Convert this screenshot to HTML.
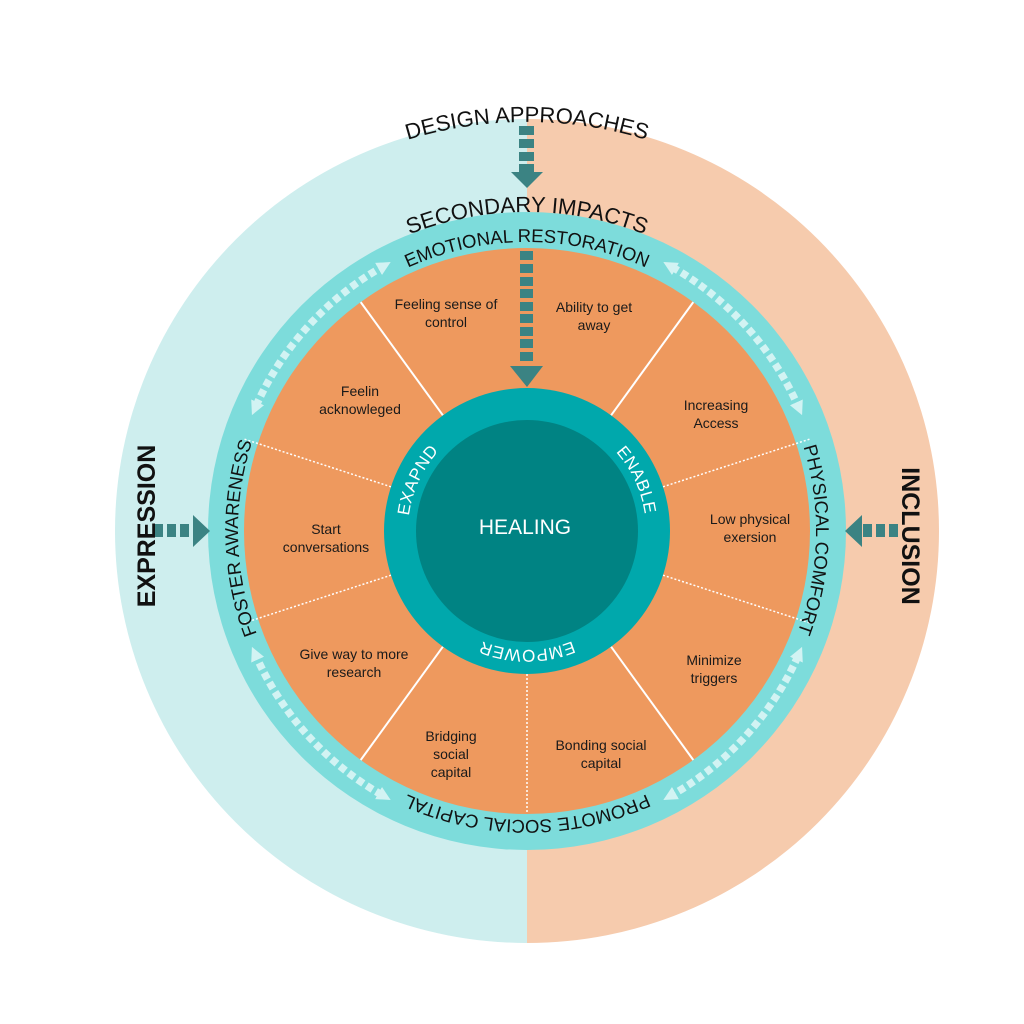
<!DOCTYPE html>
<html><head><meta charset="utf-8"><style>
html,body{margin:0;padding:0;background:#fff;}
svg{display:block;font-family:"Liberation Sans",sans-serif;}
</style></head><body>
<svg width="1024" height="1024" viewBox="0 0 1024 1024" xmlns="http://www.w3.org/2000/svg">
<defs>
<path id="b409" d="M527,940 A409,409 0 1 1 527,122 A409,409 0 1 1 527,940"/>
<path id="b319" d="M527,850 A319,319 0 1 1 527,212 A319,319 0 1 1 527,850"/>
<path id="b289" d="M527,820 A289,289 0 1 1 527,242 A289,289 0 1 1 527,820"/>
<path id="t289" d="M527,242 A289,289 0 1 1 527,820 A289,289 0 1 1 527,242"/>
<path id="b119" d="M527,650 A119,119 0 1 1 527,412 A119,119 0 1 1 527,650"/>
<path id="t119" d="M527,412 A119,119 0 1 1 527,650 A119,119 0 1 1 527,412"/>
<marker id="ah" markerUnits="userSpaceOnUse" markerWidth="16" markerHeight="16" refX="4" refY="8" orient="auto-start-reverse">
<polygon points="0,1 14,8 0,15" fill="#d2f3f3"/>
</marker>
</defs>
<path d="M527,119 A412,412 0 0 0 527,943 Z" fill="#ceeeee"/>
<path d="M527,119 A412,412 0 0 1 527,943 Z" fill="#f6cbad"/>
<circle cx="527" cy="531" r="319" fill="#7ddcdb"/>
<circle cx="527" cy="531" r="283" fill="#ee995e"/>
<g stroke="#fff" stroke-width="2">
<line x1="611.1" y1="415.3" x2="693.3" y2="302.1"/>
<line x1="611.1" y1="646.7" x2="693.3" y2="760"/>
<line x1="442.9" y1="646.7" x2="360.7" y2="760"/>
<line x1="442.9" y1="415.3" x2="360.7" y2="302.1"/>
</g>
<g stroke="#fff" stroke-width="1.5" stroke-dasharray="2 2">
<line x1="663" y1="486.8" x2="810" y2="439"/>
<line x1="663" y1="575.2" x2="810" y2="623"/>
<line x1="527" y1="674" x2="527" y2="814"/>
<line x1="391" y1="575.2" x2="244" y2="623"/>
<line x1="391" y1="486.8" x2="244" y2="439"/>
</g>
<circle cx="527" cy="531" r="143" fill="#00a8ac"/>
<circle cx="527" cy="531" r="111" fill="#008383"/>
<text x="525" y="534" font-size="21" fill="#fff" text-anchor="middle">HEALING</text>
<g font-size="17" fill="#fff" letter-spacing="0.5">
<text><textPath href="#b119" startOffset="31.9%" text-anchor="middle">EXAPND</textPath></text>
<text><textPath href="#b119" startOffset="68.1%" text-anchor="middle">ENABLE</textPath></text>
<text><textPath href="#t119" startOffset="50%" text-anchor="middle">EMPOWER</textPath></text>
</g>
<g fill="none" stroke="#d2f3f3" stroke-width="7.5" stroke-dasharray="7 4" marker-start="url(#ah)" marker-end="url(#ah)">
<path d="M256,406 A301,301 0 0 1 382,267"/>
<path d="M672,267 A301,301 0 0 1 798,406"/>
<path d="M798,656 A301,301 0 0 1 672,795"/>
<path d="M382,795 A301,301 0 0 1 256,656"/>
</g>
<g font-size="18.5" fill="#111">
<text><textPath href="#b289" startOffset="50%" text-anchor="middle">EMOTIONAL RESTORATION</textPath></text>
<text><textPath href="#b289" startOffset="24.6%" text-anchor="middle">FOSTER AWARENESS</textPath></text>
<text><textPath href="#b289" startOffset="75.5%" text-anchor="middle">PHYSICAL COMFORT</textPath></text>
<text><textPath href="#t289" startOffset="50%" text-anchor="middle">PROMOTE SOCIAL CAPITAL</textPath></text>
</g>
<text font-size="22" fill="#111"><textPath href="#b319" startOffset="50%" text-anchor="middle">SECONDARY IMPACTS</textPath></text>
<text font-size="22" fill="#111"><textPath href="#b409" startOffset="50%" text-anchor="middle">DESIGN APPROACHES</textPath></text>
<g fill="#3b8383">
<g><rect x="519" y="126" width="15" height="9"/><rect x="519" y="139" width="15" height="9"/><rect x="519" y="152" width="15" height="9"/><rect x="519" y="164" width="15" height="8"/>
<polygon points="511,172 543,172 527,188"/></g>
<g><rect x="520" y="251" width="13" height="9"/><rect x="520" y="264" width="13" height="9"/><rect x="520" y="277" width="13" height="9"/><rect x="520" y="289" width="13" height="9"/><rect x="520" y="302" width="13" height="9"/><rect x="520" y="314" width="13" height="9"/><rect x="520" y="327" width="13" height="9"/><rect x="520" y="339" width="13" height="9"/><rect x="520" y="352" width="13" height="9"/>
<polygon points="510,366 543,366 527,387"/></g>
<g><rect x="154" y="524" width="9" height="13"/><rect x="167" y="524" width="9" height="13"/><rect x="180" y="524" width="9" height="13"/>
<polygon points="193,515 193,547 210,531"/></g>
<g><rect x="889" y="524" width="9" height="13"/><rect x="876" y="524" width="9" height="13"/><rect x="863" y="524" width="9" height="13"/>
<polygon points="862,515 862,547 845,531"/></g>
</g>
<text transform="translate(155,526) rotate(-90)" font-size="25" font-weight="bold" fill="#111" text-anchor="middle">EXPRESSION</text>
<text transform="translate(902,536) rotate(90)" font-size="25" font-weight="bold" fill="#111" text-anchor="middle">INCLUSION</text>
<g font-size="14" fill="#1a1a1a" text-anchor="middle">
<text x="446" y="309">Feeling sense of<tspan x="446" dy="18">control</tspan></text>
<text x="594" y="312">Ability to get<tspan x="594" dy="18">away</tspan></text>
<text x="716" y="410">Increasing<tspan x="716" dy="18">Access</tspan></text>
<text x="750" y="524">Low physical<tspan x="750" dy="18">exersion</tspan></text>
<text x="714" y="665">Minimize<tspan x="714" dy="18">triggers</tspan></text>
<text x="601" y="750">Bonding social<tspan x="601" dy="18">capital</tspan></text>
<text x="451" y="741">Bridging<tspan x="451" dy="18">social</tspan><tspan x="451" dy="18">capital</tspan></text>
<text x="354" y="659">Give way to more<tspan x="354" dy="18">research</tspan></text>
<text x="326" y="534">Start<tspan x="326" dy="18">conversations</tspan></text>
<text x="360" y="396">Feelin<tspan x="360" dy="18">acknowleged</tspan></text>
</g>
</svg>
</body></html>
